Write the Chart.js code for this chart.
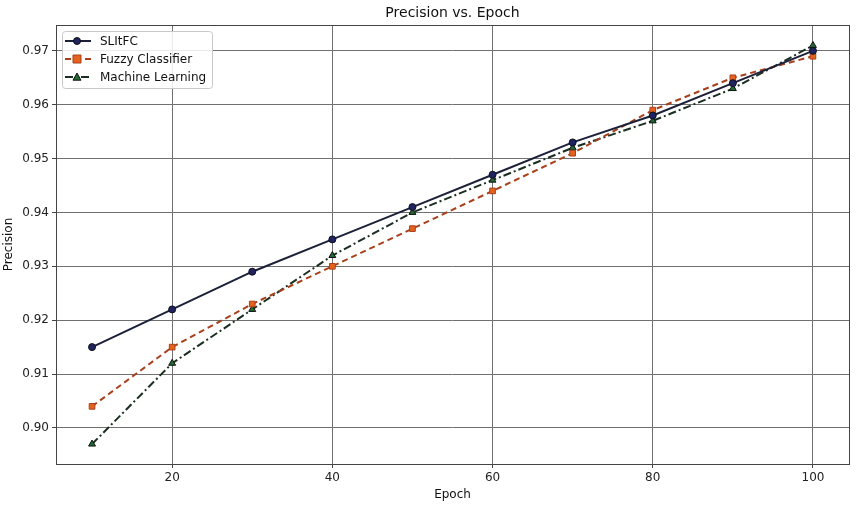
<!DOCTYPE html>
<html>
<head>
<meta charset="utf-8">
<script src="https://cdn.jsdelivr.net/npm/chart.js@4.4.1/dist/chart.umd.min.js"></script>
<style>
  html, body { margin: 0; padding: 0; background: #fff; }
  #wrap { width: 859px; height: 506px; }
</style>
</head>
<body>
<div id="wrap"><canvas id="chart"></canvas></div>
<script>
const epochs = [10, 20, 30, 40, 50, 60, 70, 80, 90, 100];
const slitfc = [0.915, 0.922, 0.929, 0.935, 0.941, 0.947, 0.953, 0.958, 0.964, 0.970];
const fuzzy = [0.904, 0.915, 0.923, 0.930, 0.937, 0.944, 0.951, 0.959, 0.965, 0.969];
const machineLearning = [0.897, 0.912, 0.922, 0.932, 0.940, 0.946, 0.952, 0.957, 0.963, 0.971];
const xTicks = [20, 40, 60, 80, 100];
const yTicks = [0.90, 0.91, 0.92, 0.93, 0.94, 0.95, 0.96, 0.97];
const chartTitle = "Precision vs. Epoch";

const FONT = "'DejaVu Sans', sans-serif";

const toPoints = (values) => values.map((v, i) => ({ x: epochs[i], y: v }));

// axes box + title centred over the plot area
const frame = {
  id: "frame",
  afterDatasetsDraw(chart) {
    const { ctx, chartArea: a } = chart;
    ctx.save();
    ctx.strokeStyle = "#444";
    ctx.lineWidth = 1;
    ctx.strokeRect(a.left + 0.5, a.top + 0.5, a.width, a.height);

    ctx.fillStyle = "#111";
    ctx.font = "14px " + FONT;
    ctx.textAlign = "center";
    ctx.textBaseline = "middle";
    ctx.fillText(chartTitle, (a.left + a.right) / 2, 13);
    ctx.restore();
  },
};

const drawMarker = (ctx, ds, cx, cy) => {
  const r = ds.pointRadius;
  ctx.fillStyle = ds.pointBackgroundColor;
  ctx.strokeStyle = ds.pointBorderColor;
  ctx.lineWidth = 1;
  ctx.beginPath();
  if (ds.pointStyle === "circle") {
    ctx.arc(cx, cy, r, 0, Math.PI * 2);
  } else if (ds.pointStyle === "rect") {
    ctx.rect(cx - r, cy - r, r * 2, r * 2);
  } else {
    ctx.moveTo(cx, cy - r);
    ctx.lineTo(cx + r, cy + r * 0.8);
    ctx.lineTo(cx - r, cy + r * 0.8);
    ctx.closePath();
  }
  ctx.fill();
  ctx.stroke();
};

// legend box in the upper left, line + marker per series
const boxLegend = {
  id: "boxLegend",
  afterDraw(chart) {
    const { ctx, chartArea: a } = chart;
    const x = a.left + 6;
    const y = a.top + 6;
    const w = 150;
    const h = 57;
    ctx.save();
    ctx.fillStyle = "rgba(255,255,255,0.85)";
    ctx.strokeStyle = "#c8c8c8";
    ctx.lineWidth = 1;
    ctx.beginPath();
    ctx.roundRect(x + 0.5, y + 0.5, w, h, 3);
    ctx.fill();
    ctx.stroke();

    chart.data.datasets.forEach((ds, i) => {
      const ry = y + 10 + i * 18;
      ctx.strokeStyle = ds.borderColor;
      ctx.lineWidth = ds.borderWidth;
      ctx.setLineDash(ds.borderDash || []);
      ctx.beginPath();
      ctx.moveTo(x + 3, ry);
      ctx.lineTo(x + 29, ry);
      ctx.stroke();
      ctx.setLineDash([]);
      drawMarker(ctx, ds, x + 15, ry);

      ctx.fillStyle = "#111";
      ctx.font = "12px " + FONT;
      ctx.textAlign = "left";
      ctx.textBaseline = "middle";
      ctx.fillText(ds.label, x + 38, ry + 0.5);
    });
    ctx.restore();
  },
};

const axisFont = { family: FONT, size: 12 };

new Chart(document.getElementById("chart"), {
  type: "line",
  data: {
    datasets: [
      {
        label: "SLItFC",
        data: toPoints(slitfc),
        borderColor: "#1c2038",
        borderWidth: 2,
        pointStyle: "circle",
        pointRadius: 3.5,
        pointBackgroundColor: "#1f2460",
        pointBorderColor: "#111",
        pointBorderWidth: 1,
      },
      {
        label: "Fuzzy Classifier",
        data: toPoints(fuzzy),
        borderColor: "#a8401c",
        borderWidth: 2,
        borderDash: [6, 4],
        pointStyle: "rect",
        pointRadius: 4,
        pointBackgroundColor: "#e4621e",
        pointBorderColor: "#a8401c",
        pointBorderWidth: 1,
      },
      {
        label: "Machine Learning",
        data: toPoints(machineLearning),
        borderColor: "#1b2e22",
        borderWidth: 2,
        borderDash: [8, 3, 2, 3],
        pointStyle: "triangle",
        pointRadius: 4,
        pointBackgroundColor: "#1e6a30",
        pointBorderColor: "#111",
        pointBorderWidth: 1,
      },
    ],
  },
  options: {
    responsive: true,
    maintainAspectRatio: false,
    animation: false,
    layout: { padding: { top: 25, right: 10, left: 0, bottom: 0 } },
    plugins: {
      legend: { display: false },
      tooltip: { enabled: false },
      title: { display: false },
    },
    scales: {
      x: {
        type: "linear",
        min: 5.5,
        max: 104.5,
        afterBuildTicks: (scale) => {
          scale.ticks = xTicks.map((v) => ({ value: v }));
        },
        afterFit: (scale) => {
          scale.height = 42;
        },
        grid: { color: "#707070", lineWidth: 1, tickLength: 4, tickColor: "#444" },
        border: { display: false },
        ticks: { color: "#222", font: axisFont, padding: 3, maxRotation: 0 },
        title: {
          display: true,
          text: "Epoch",
          color: "#111",
          font: axisFont,
          padding: { top: 0, bottom: 4 },
        },
      },
      y: {
        min: 0.8933,
        max: 0.9748,
        afterBuildTicks: (scale) => {
          scale.ticks = yTicks.map((v) => ({ value: v }));
        },
        afterFit: (scale) => {
          scale.width = 56;
        },
        grid: { color: "#707070", lineWidth: 1, tickLength: 4, tickColor: "#444" },
        border: { display: false },
        ticks: {
          color: "#222",
          font: axisFont,
          padding: 3,
          callback: (v) => v.toFixed(2),
        },
        title: {
          display: true,
          text: "Precision",
          color: "#111",
          font: axisFont,
          padding: { top: 2, bottom: 0 },
        },
      },
    },
  },
  plugins: [frame, boxLegend],
});
</script>
</body>
</html>
